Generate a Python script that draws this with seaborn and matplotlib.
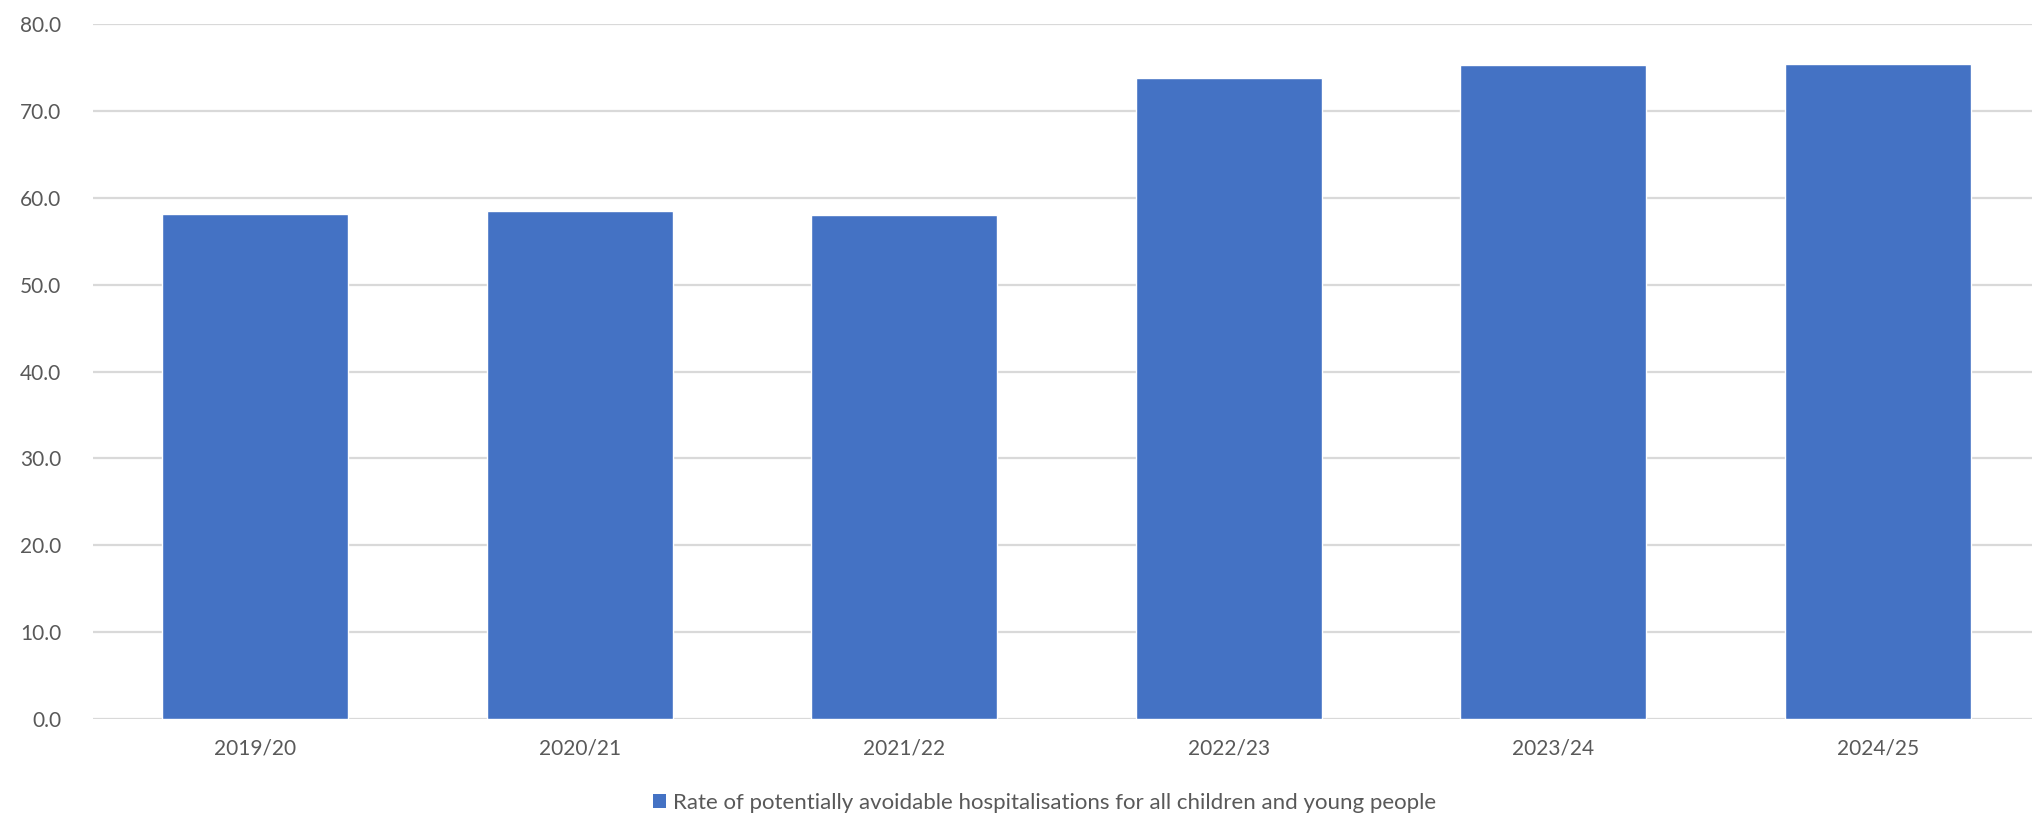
import numpy as np
import pandas as pd
import matplotlib
matplotlib.use('Agg')
import matplotlib.pyplot as plt
import seaborn as sns
from matplotlib.patches import Patch

# chart data
years = ['2019/20', '2020/21', '2021/22', '2022/23', '2023/24', '2024/25']
rates = [58.2, 58.5, 58.1, 73.8, 75.3, 75.5]
series_name = 'Rate of potentially avoidable hospitalisations for all children and young people'

df = pd.DataFrame({'year': years, 'rate': rates})

sns.set_style('white')
plt.rcParams['font.family'] = ['Lato', 'DejaVu Sans']

bar_colour = '#4472C4'
text_colour = '#595959'
grid_colour = '#D9D9D9'

fig = plt.figure(figsize=(20.32, 8.16), dpi=100)
ax = fig.add_axes([93 / 2032, 97.3 / 816, 1947 / 2032, 694.2 / 816])

sns.barplot(data=df, x='year', y='rate', color=bar_colour, width=0.573,
            saturation=1, ax=ax, zorder=3)

ax.set_ylim(0, 80)
ax.set_xlim(-0.5, len(years) - 0.5)
ax.set_yticks(np.arange(0, 81, 10))
ax.set_yticklabels([f'{v:.1f}' for v in np.arange(0, 81, 10)])
ax.yaxis.grid(True, color=grid_colour, linewidth=1.6, zorder=0)
ax.set_axisbelow(True)
for s in ax.spines.values():
    s.set_visible(False)
ax.tick_params(axis='both', length=0, labelsize=15, labelcolor=text_colour)
ax.tick_params(axis='y', pad=23)
ax.tick_params(axis='x', pad=14)
ax.set_xlabel('')
ax.set_ylabel('')

# legend under the chart
handle = Patch(facecolor=bar_colour, edgecolor='none')
fig.legend([handle], [series_name], loc='center', bbox_to_anchor=(0.514, 0.016),
           frameon=False, fontsize=16, labelcolor=text_colour,
           handlelength=0.6, handleheight=0.6, handletextpad=0.3)

fig.savefig('out.png', dpi=100)
